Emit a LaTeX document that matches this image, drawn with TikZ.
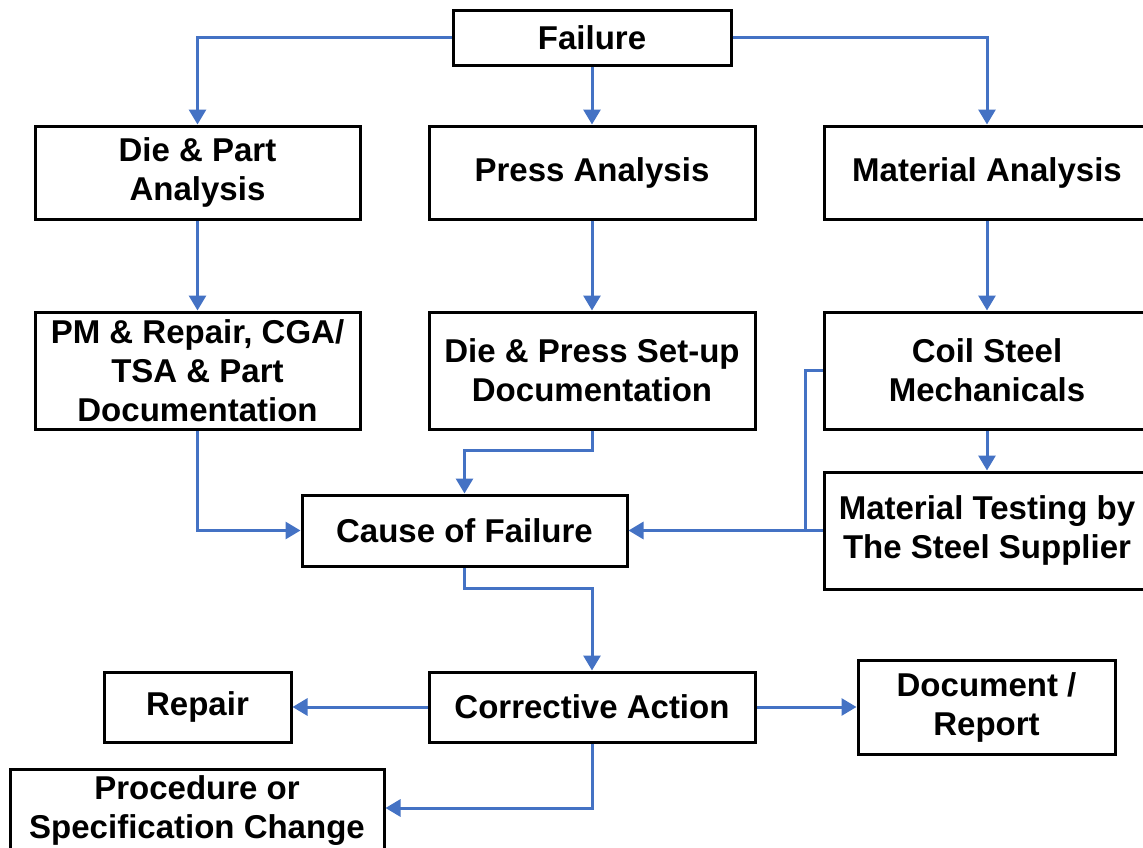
\documentclass[tikz,border=0pt]{standalone}
\usepackage{fontspec}
\setmainfont{Liberation Sans}
\usetikzlibrary{arrows.meta}
\definecolor{conblue}{HTML}{4472C4}
\tikzset{
  box/.style={draw=black, line width=3pt, fill=white, inner sep=0pt, align=center,
    font=\fontsize{33}{39}\selectfont\bfseries},
  link/.style={draw=conblue, line width=3pt},
  conn/.style={link, -{Triangle[length=15pt,width=17pt]}}
}
\begin{document}
\begin{tikzpicture}[x=1pt,y=-1pt]
\useasboundingbox (0,0) rectangle (1143,847);
\clip (0,0) rectangle (1143,847);
\node[box, minimum width=278pt, minimum height=55pt] (fail) at (592,37.5) {Failure};
\node[box, minimum width=325pt, minimum height=93pt] (dpa) at (197.5,172.5) {Die \& Part\\Analysis};
\node[box, minimum width=326pt, minimum height=93pt] (pa) at (592,172.5) {Press Analysis};
\node[box, minimum width=326pt, minimum height=93pt] (ma) at (987,172.5) {Material Analysis};
\node[box, minimum width=325pt, minimum height=117pt] (pm) at (197.5,370.5) {PM \& Repair, CGA/\\TSA \& Part\\Documentation};
\node[box, minimum width=326pt, minimum height=117pt] (dps) at (592,370.5) {Die \& Press Set-up\\Documentation};
\node[box, minimum width=326pt, minimum height=117pt] (coil) at (987,370.5) {Coil Steel\\Mechanicals};
\node[box, minimum width=326pt, minimum height=117pt] (mt) at (987,530.5) {Material Testing by\\The Steel Supplier};
\node[box, minimum width=325pt, minimum height=71pt] (cause) at (464.5,530.5) {Cause of Failure};
\node[box, minimum width=326pt, minimum height=70pt] (ca) at (592,707) {Corrective Action};
\node[box, minimum width=187pt, minimum height=70pt] (rep) at (197.5,707) {Repair};
\node[box, minimum width=257pt, minimum height=94pt] (doc) at (986.5,707.5) {Document /\\Report};
\node[box, minimum width=374pt, minimum height=84pt] (proc) at (197,811) {Procedure or\\Specification Change};
\coordinate (j) at (805,530.5);
\draw[conn] (fail.west) -| (dpa.north);
\draw[conn] (fail.south) -- (pa.north);
\draw[conn] (fail.east) -| (ma.north);
\draw[conn] (dpa.south) -- (pm.north);
\draw[conn] (pa.south) -- (dps.north);
\draw[conn] (ma.south) -- (coil.north);
\draw[conn] (coil.south) -- (mt.north);
\draw[conn] (pm.south) |- (cause.west);
\draw[conn] (dps.south) -- ++(0,20) -| (cause.north);
\draw[link] (coil.west) -| (j);
\draw[conn] (mt.west) -- (j) -- (cause.east);
\draw[conn] (cause.south) -- ++(0,21) -| (ca.north);
\draw[conn] (ca.west) -- (rep.east);
\draw[conn] (ca.east) -- (ca.east -| doc.west);
\draw[conn] (ca.south) |- (proc.east |- 0,808);
\end{tikzpicture}
\end{document}
